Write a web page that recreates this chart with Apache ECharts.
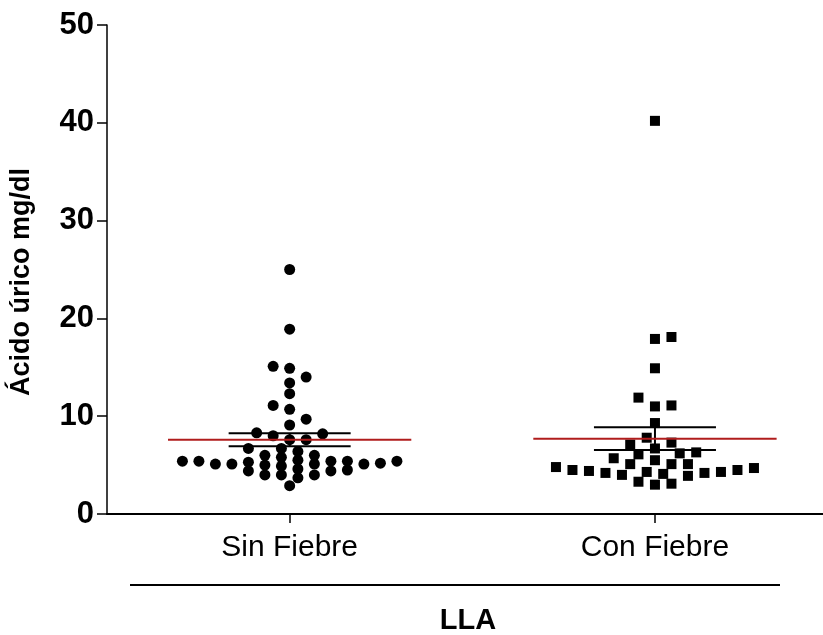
<!DOCTYPE html>
<html><head><meta charset="utf-8">
<script src="https://cdn.jsdelivr.net/npm/echarts@6/dist/echarts.min.js"></script>
<style>html,body{margin:0;padding:0;background:#fff}#c{width:823px;height:635px}</style>
</head><body><div id="c"></div>
<script>
// ---- data ----
const categories = ['Sin Fiebre', 'Con Fiebre'];
const sinFiebre = [25.0, 18.9, 15.1, 14.9, 14.0, 13.4, 12.3, 11.1, 10.7, 9.7, 9.1, 8.3, 8.2, 8.0, 7.6, 7.6,
  6.7, 6.7, 6.4, 6.0, 6.0, 5.8, 5.5, 5.4, 5.4, 5.4, 5.4, 5.4, 5.3, 5.2, 5.1, 5.1, 5.1, 5.1, 5.0, 4.9,
  4.6, 4.5, 4.4, 4.4, 4.0, 4.0, 4.0, 3.7, 2.9];
const conFiebre = [40.2, 18.1, 17.9, 14.9, 11.9, 11.1, 11.0, 9.3, 7.8, 7.3, 7.1, 6.7, 6.3, 6.2, 6.1,
  5.7, 5.5, 5.1, 5.1, 5.1, 4.8, 4.7, 4.5, 4.5, 4.4, 4.3, 4.3, 4.2, 4.2, 4.1, 4.0, 3.9, 3.3, 3.1, 3.0];
const yTicks = [0, 10, 20, 30, 40, 50];
const groupTitle = 'LLA';
const yTitle = 'Ácido úrico mg/dl';

const FONT = '"Liberation Sans", Arial, sans-serif';
const chart = echarts.init(document.getElementById('c'), null, {renderer: 'canvas'});

chart.setOption({
  animation: false,
  backgroundColor: '#fff',
  grid: {left: 107, right: 0, top: 25, bottom: 121},
  xAxis: {
    type: 'value', min: 0.5, max: 2.46,
    axisLine: {show: true, lineStyle: {color: '#000', width: 2}},
    axisTick: {show: true, customValues: [1, 2], length: 9, lineStyle: {color: '#000', width: 1.5}},
    axisLabel: {customValues: [1, 2], formatter: v => categories[Math.round(v) - 1],
      fontFamily: FONT, fontSize: 30, color: '#000', margin: 19},
    splitLine: {show: false}
  },
  yAxis: {
    type: 'value', min: yTicks[0], max: yTicks[yTicks.length - 1], interval: 10,
    axisLine: {show: true, lineStyle: {color: '#000', width: 1.5}},
    axisTick: {show: true, length: 10, lineStyle: {color: '#000', width: 1.5}},
    axisLabel: {fontFamily: FONT, fontSize: 31, fontWeight: 'bold', color: '#000', margin: 13},
    splitLine: {show: false}
  },
  graphic: [
    {type: 'text', x: 22, y: 282, rotation: Math.PI / 2,
      style: {text: yTitle, font: 'bold 27px ' + FONT, fill: '#000', align: 'center', verticalAlign: 'middle'}},
    {type: 'line', shape: {x1: 130, y1: 585, x2: 780, y2: 585}, style: {stroke: '#000', lineWidth: 2}},
    {type: 'text', x: 468, y: 621, style: {text: groupTitle, font: 'bold 29px ' + FONT, fill: '#000', align: 'center', verticalAlign: 'middle'}}
  ]
});

// beeswarm layout computed in pixel space from the values
function swarmOffsets(values, cat, vgap) {
  const STEP = 16.5;
  const idx = values.map((v, i) => i).sort((a, b) => values[a] - values[b]);
  const placed = [];
  const off = new Array(values.length);
  let bal = 0;
  idx.forEach(i => {
    const y = chart.convertToPixel({gridIndex: 0}, [cat, values[i]])[1];
    for (let k = 0; k < 200; k++) {
      const tries = k === 0 ? [0] : (bal > 0 ? [-k, k] : [k, -k]);
      const hit = tries.find(t => placed.every(p => {
        const dx = (p.x - t * STEP / 2) / STEP, dy = (p.y - y) / vgap;
        return dx * dx + dy * dy >= 0.98;
      }));
      if (hit !== undefined) {
        placed.push({x: hit * STEP / 2, y});
        off[i] = hit * STEP / 2;
        bal += Math.sign(hit);
        break;
      }
    }
  });
  return off;
}

const p1 = chart.convertToPixel({gridIndex: 0}, [1, 0])[0];
const p2 = chart.convertToPixel({gridIndex: 0}, [2, 0])[0];
const pxPerX = p2 - p1;

function points(values, cat, vgap) {
  const off = swarmOffsets(values, cat, vgap);
  return values.map((v, i) => [cat + off[i] / pxPerX, v]);
}
function stats(values, cat) {
  const n = values.length;
  const m = values.reduce((a, b) => a + b, 0) / n;
  const sd = Math.sqrt(values.reduce((a, b) => a + (b - m) * (b - m), 0) / (n - 1));
  return [cat, m, sd / Math.sqrt(n)];
}

chart.setOption({
  series: [
    {type: 'scatter', name: categories[0], data: points(sinFiebre, 1, 8.5), symbol: 'circle', symbolSize: 11,
      itemStyle: {color: '#000', opacity: 1}, z: 2},
    {type: 'scatter', name: categories[1], data: points(conFiebre, 2, 11), symbol: 'rect', symbolSize: 10,
      itemStyle: {color: '#000', opacity: 1}, z: 2},
    {type: 'custom', z: 5, data: [stats(sinFiebre, 1), stats(conFiebre, 2)],
      renderItem: (params, api) => {
        const c = api.value(0), m = api.value(1), s = api.value(2);
        const L = (x1, y1, x2, y2, col) => {
          const a = api.coord([x1, y1]), b = api.coord([x2, y2]);
          return {type: 'line', shape: {x1: a[0], y1: a[1], x2: b[0], y2: b[1]}, style: {stroke: col, lineWidth: 2}};
        };
        return {type: 'group', children: [
          L(c, m - s, c, m + s, '#000'),
          L(c - 0.167, m + s, c + 0.167, m + s, '#000'),
          L(c - 0.167, m - s, c + 0.167, m - s, '#000'),
          L(c - 0.333, m, c + 0.333, m, '#b01c1c')
        ]};
      }}
  ]
});
</script></body></html>
